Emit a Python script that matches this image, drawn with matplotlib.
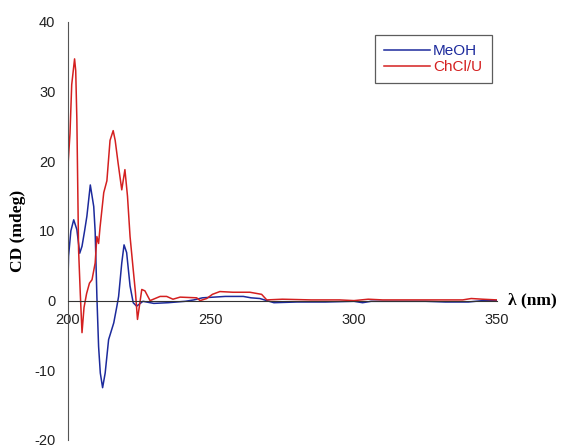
import numpy as np
import matplotlib.pyplot as plt

plt.rcParams['axes.unicode_minus'] = False

# ---- data ----
wl_meoh = [200.0, 200.2, 201.0, 202.0, 203.1, 204.1, 204.9, 205.8, 206.6, 207.8,
           209.0, 209.5, 210.1, 210.7, 211.3, 212.1, 213.0, 214.2, 216.0, 217.1,
           217.7, 218.8, 219.6, 220.5, 221.7, 222.8, 224.0, 226.2, 230.0, 235.0,
           241.0, 244.0, 247.0, 251.0, 255.0, 258.0, 261.3, 264.0, 267.1, 269.5,
           272.0, 280.0, 290.0, 300.0, 303.0, 306.0, 315.0, 325.0, 332.0, 340.0,
           345.0, 350.0]
cd_meoh = [3.0, 6.4, 10.0, 11.6, 10.2, 6.8, 7.8, 10.0, 12.1, 16.6,
           13.5, 9.9, 0.6, -6.6, -10.4, -12.5, -10.4, -5.6, -3.2, -0.8,
           0.6, 5.4, 8.0, 6.9, 2.1, -0.3, -0.8, -0.1, -0.4, -0.3,
           -0.1, 0.1, 0.4, 0.5, 0.6, 0.6, 0.6, 0.4, 0.3, 0.0,
           -0.3, -0.2, -0.2, -0.1, -0.3, -0.1, -0.1, -0.1, -0.2, -0.2,
           0.0, 0.0]

wl_chcl = [200.0, 200.1, 200.7, 201.3, 202.3, 202.7, 203.1, 203.7, 204.3, 204.9,
           205.6, 206.5, 207.5, 208.4, 209.5, 210.1, 210.7, 211.2, 212.5, 213.6,
           214.7, 215.8, 216.5, 217.5, 218.8, 219.9, 220.8, 221.7, 222.7, 223.6,
           224.3, 225.8, 226.9, 228.7, 232.2, 234.5, 236.7, 239.2, 245.0, 246.2,
           248.5, 250.5, 253.1, 257.7, 263.6, 267.7, 269.5, 275.0, 285.0, 295.0,
           300.0, 305.0, 310.0, 320.0, 330.0, 338.0, 341.0, 345.0, 350.0]
cd_chcl = [11.5, 20.0, 24.0, 31.0, 34.7, 33.0, 26.0, 7.3, 1.0, -4.6,
           -1.0, 1.0, 2.5, 3.0, 5.4, 9.2, 8.2, 10.5, 15.5, 17.2,
           23.0, 24.4, 23.0, 19.8, 15.9, 18.8, 15.0, 9.2, 4.9, 1.1,
           -2.7, 1.6, 1.4, 0.0, 0.6, 0.6, 0.2, 0.5, 0.4, 0.0,
           0.3, 0.9, 1.3, 1.2, 1.2, 0.9, 0.1, 0.2, 0.1, 0.1,
           0.0, 0.2, 0.1, 0.1, 0.1, 0.1, 0.3, 0.2, 0.1]

x_ticks = [200, 250, 300, 350]
y_ticks = [-20, -10, 0, 10, 20, 30, 40]

# ---- plot ----
fig = plt.figure(figsize=(5.61, 4.48), dpi=100)
ax = fig.add_axes([0.1212, 0.018, 0.7647, 0.933])

ax.plot(wl_meoh, cd_meoh, color='#1c2a9c', lw=1.1, label='MeOH')
ax.plot(wl_chcl, cd_chcl, color='#d42020', lw=1.1, label='ChCl/U')

ax.set_xlim(200, 350)
ax.set_ylim(-20, 40)

# axes: left spine full height, x axis through zero
ax.spines['top'].set_visible(False)
ax.spines['right'].set_visible(False)
ax.spines['bottom'].set_position(('data', 0))
ax.spines['left'].set_color('#555555')
ax.spines['bottom'].set_color('#333333')

ax.set_xticks(x_ticks)
ax.set_yticks(y_ticks)
ax.tick_params(axis='both', length=0, labelsize=10.5, labelcolor='#222222',
               labelfontfamily='Liberation Sans')
ax.tick_params(axis='y', pad=9)
ax.tick_params(axis='x', pad=9)

ax.set_ylabel('CD (mdeg)', fontsize=12.5, fontweight='bold',
              family='Liberation Serif', labelpad=6)
ax.text(1.026, 0.335, 'λ (nm)', transform=ax.transAxes, fontsize=12.5,
        fontweight='bold', family='Liberation Serif', va='center', ha='left',
        clip_on=False)

leg = ax.legend(loc='upper left', bbox_to_anchor=(0.716, 0.969), frameon=True,
                fancybox=False, edgecolor='#333333', handlelength=3.0,
                handletextpad=0.2, borderpad=0.6, labelspacing=0.12,
                borderaxespad=0.0,
                prop={'family': 'Liberation Sans', 'size': 11})
leg.get_frame().set_linewidth(0.9)
for line, text in zip(leg.get_lines(), leg.get_texts()):
    text.set_color(line.get_color())

fig.savefig('out.png', dpi=100)
